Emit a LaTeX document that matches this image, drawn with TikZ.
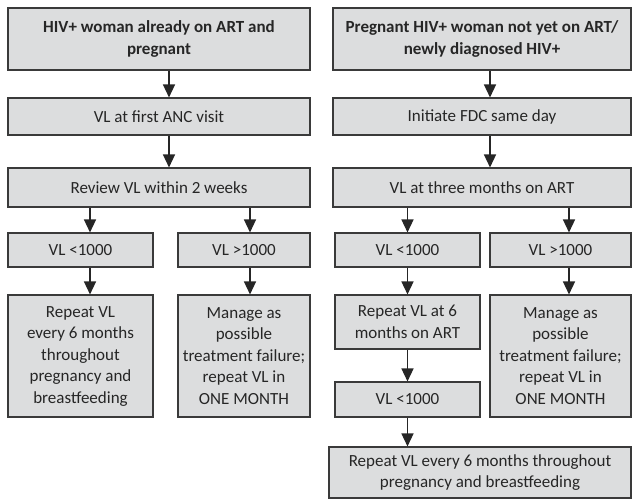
\documentclass[tikz,border=0pt]{standalone}
\usepackage{fontspec}
\setmainfont{Carlito}
\usetikzlibrary{arrows.meta}
\definecolor{boxfill}{HTML}{DCDDDE}
\definecolor{boxline}{HTML}{3A3A3A}
\definecolor{inktext}{HTML}{262626}

\begin{document}
\begin{tikzpicture}[x=1pt,y=1pt,
  box/.style={draw=boxline, fill=boxfill, line width=1.1pt, inner sep=0pt,
    align=center, text=inktext, font=\fontsize{17}{21.5}\selectfont},
  headbox/.style={box, font=\fontsize{17}{21.5}\selectfont\bfseries},
  arr/.style={line width=1.4pt, draw=inktext,
    -{Triangle[width=12pt,length=13pt]}}]

  \useasboundingbox (0,0) rectangle (632,-499);

  % already on ART
  \node[headbox, minimum width=302, minimum height=62] (a1) at (159,-39)
    {HIV+ woman already on ART and\\pregnant};
  \node[box, minimum width=302, minimum height=37] (a2) at (159,-116.5)
    {VL at first ANC visit};
  \node[box, minimum width=302, minimum height=39] (a3) at (159,-187.5)
    {Review VL within 2 weeks};
  \node[box, minimum width=145, minimum height=34] (a4) at (80.5,-250)
    {VL <1000};
  \node[box, minimum width=132, minimum height=34] (a5) at (244,-250)
    {VL >1000};
  \node[box, minimum width=145, minimum height=122] (a6) at (80.5,-356)
    {Repeat VL\\every 6 months\\throughout\\pregnancy and\\breastfeeding};
  \node[box, minimum width=132, minimum height=122] (a7) at (244,-356)
    {Manage as\\possible\\treatment failure;\\repeat VL in\\ONE MONTH};

  % not yet on ART
  \node[headbox, minimum width=298, minimum height=62] (b1) at (482,-39)
    {Pregnant HIV+ woman not yet on ART/\\newly diagnosed HIV+};
  \node[box, minimum width=298, minimum height=37] (b2) at (482,-116.5)
    {Initiate FDC same day};
  \node[box, minimum width=298, minimum height=39] (b3) at (482,-187.5)
    {VL at three months on ART};
  \node[box, minimum width=145, minimum height=34] (b4) at (407.5,-250)
    {VL <1000};
  \node[box, minimum width=141, minimum height=34] (b5) at (560.5,-250)
    {VL >1000};
  \node[box, minimum width=145, minimum height=54] (b6) at (407.5,-322)
    {Repeat VL at 6\\months on ART};
  \node[box, minimum width=141, minimum height=122] (b7) at (560.5,-356)
    {Manage as\\possible\\treatment failure;\\repeat VL in\\ONE MONTH};
  \node[box, minimum width=145, minimum height=35] (b8) at (407.5,-399.5)
    {VL <1000};
  \node[box, minimum width=302, minimum height=51] (b9) at (480,-472.5)
    {Repeat VL every 6 months throughout\\pregnancy and breastfeeding};

  \draw[arr] ([xshift=10]a1.south) -- ([xshift=10]a2.north);
  \draw[arr] ([xshift=10]a2.south) -- ([xshift=10]a3.north);
  \draw[arr] ([xshift=9.5]a4.north |- a3.south) -- ([xshift=9.5]a4.north);
  \draw[arr] ([xshift=6]a5.north |- a3.south) -- ([xshift=6]a5.north);
  \draw[arr] ([xshift=9.5]a4.south) -- ([xshift=9.5]a6.north);
  \draw[arr] ([xshift=6]a5.south) -- ([xshift=6]a7.north);

  \draw[arr] ([xshift=8]b1.south) -- ([xshift=8]b2.north);
  \draw[arr] ([xshift=8]b2.south) -- ([xshift=8]b3.north);
  \draw[arr] (b4.north |- b3.south) -- (b4.north);
  \draw[arr] ([xshift=8.5]b5.north |- b3.south) -- ([xshift=8.5]b5.north);
  \draw[arr] (b4.south) -- (b6.north);
  \draw[arr] ([xshift=8.5]b5.south) -- ([xshift=8.5]b7.north);
  \draw[arr] (b6.south) -- (b8.north);
  \draw[arr] (b8.south) -- (b8.south |- b9.north);
\end{tikzpicture}
\end{document}
